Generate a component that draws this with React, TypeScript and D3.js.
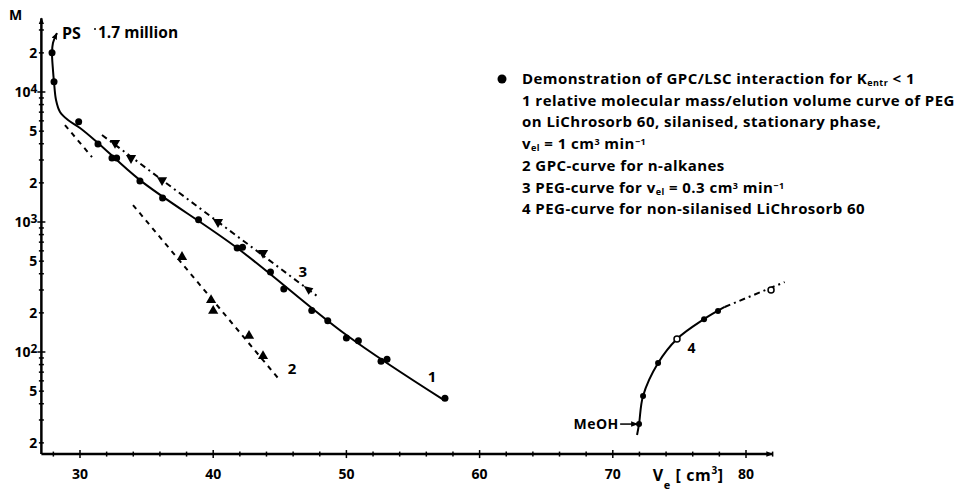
//@ts-nocheck
import { useEffect, useRef } from 'react';
import * as d3 from 'd3';

// curve 1: PEG, silanised LiChrosorb 60, v_el = 1 cm3/min (filled circles)
const curve1V = [27.9, 28.05, 29.9, 31.35, 32.4, 32.75, 34.5, 36.2, 38.9, 41.8, 42.2, 44.3, 45.3, 47.4, 48.6, 50.0, 50.9, 52.6, 53.05, 57.4];
const curve1M = [20000, 12000, 5900, 3980, 3100, 3100, 2070, 1530, 1040, 630, 640, 412, 305, 209, 174, 128, 122, 85, 88, 44];
// drawn curve 1
const line1V = [28.27, 27.97, 27.9, 27.97, 28.05, 28.2, 28.5, 29.1, 30.0, 31.35, 34.5, 41.8, 50.0, 57.33];
const line1M = [28400, 23800, 20000, 14800, 11900, 8680, 7020, 6090, 5290, 4060, 2100, 631, 135, 42.6];

// curve 2: n-alkanes (triangles up)
const curve2V = [37.66, 39.84, 40.0, 42.69, 43.74];
const curve2M = [538, 251, 207, 133, 93];
const line2V = [33.98, 44.87];
const line2M = [1350, 63];
const line2bV = [28.87, 30.9];
const line2bM = [5570, 3160];

// curve 3: PEG, v_el = 0.3 cm3/min (triangles down)
const curve3V = [32.63, 33.83, 36.16, 40.36, 43.74];
const curve3M = [4055, 3105, 2100, 1000, 578];
const line3V = [31.65, 48.0];
const line3M = [4670, 260];

// curve 4: PEG, non-silanised LiChrosorb 60
const curve4V = [71.97, 72.27, 73.4, 76.85, 77.9];
const curve4M = [27.9, 45.9, 82.3, 179, 207];
const open4V = [74.82, 81.88];
const open4M = [126, 300];
const line4V = [71.82, 71.97, 72.27, 73.4, 74.82, 76.85, 78.4];
const line4M = [23, 27.9, 45.9, 82.3, 126, 179, 222];
const ext4V = [78.4, 82.9];
const ext4M = [222, 345];

const xTickValues = [30, 40, 50, 60, 70, 80];
const yLabelValues = [20, 50, 100, 200, 500, 1000, 2000, 5000, 10000, 20000];
const yLabelText = ['2', '5', '10|2', '2', '5', '10|3', '2', '5', '10|4', '2'];

const legendLines = [
    [['Demonstration of GPC/LSC interaction for K', ''], ['entr', 'sub'], [' < 1', '']],
    [['1 relative molecular mass/elution volume curve of PEG', '']],
    [['on LiChrosorb 60, silanised, stationary phase,', '']],
    [['v', ''], ['el', 'sub'], [' = 1 cm', ''], ['3', 'super'], [' min', ''], ['−1', 'super']],
    [['2 GPC-curve for n-alkanes', '']],
    [['3 PEG-curve for v', ''], ['el', 'sub'], [' = 0.3 cm', ''], ['3', 'super'], [' min', ''], ['−1', 'super']],
    [['4 PEG-curve for non-silanised LiChrosorb 60', '']],
];

const App = () => {
    const svgRef = useRef();

    useEffect(() => {
        const svg = d3.select(svgRef.current);
        svg.selectAll('*').remove();
        const font = '"Open Sans", "DejaVu Sans", sans-serif';

        const x = d3.scaleLinear().domain([30, 80]).range([80, 746]);
        const y = d3.scaleLog().domain([100, 10000]).range([352, 92]);
        const xMin = 27.1, xMax = 82.0;
        const yMin = 16.4, yMax = 37000;

        const defs = svg.append('defs');
        defs.append('marker')
            .attr('id', 'arr')
            .attr('viewBox', '0 0 10 10')
            .attr('refX', 9).attr('refY', 5)
            .attr('markerWidth', 7).attr('markerHeight', 7)
            .attr('markerUnits', 'userSpaceOnUse')
            .attr('orient', 'auto-start-reverse')
            .append('path').attr('d', 'M0,1 L10,5 L0,9 Z').attr('fill', '#000');

        // axes
        const ax = svg.append('g').attr('stroke', '#000').attr('fill', 'none');
        ax.append('line')
            .attr('x1', x(xMin)).attr('x2', x(xMax))
            .attr('y1', y(yMin)).attr('y2', y(yMin))
            .attr('stroke-width', 2.5)
            .attr('marker-end', 'url(#arr)');
        ax.append('line')
            .attr('x1', x(xMin)).attr('x2', x(xMin))
            .attr('y1', y(yMin)).attr('y2', y(yMax))
            .attr('stroke-width', 2.5)
            .attr('marker-end', 'url(#arr)');

        // x ticks every 2 units
        const xMinor = d3.range(28, 82.1, 2);
        ax.selectAll('.xt').data(xMinor).enter().append('line')
            .attr('x1', d => x(d)).attr('x2', d => x(d))
            .attr('y1', d => y(yMin) - (d % 10 === 0 ? 4 : 2.5))
            .attr('y2', d => y(yMin) + (d % 10 === 0 ? 4 : 2.5))
            .attr('stroke-width', 1.5);

        // y ticks 1..9 per decade
        const yMinor = [];
        [10, 100, 1000, 10000].forEach(dec => {
            for (let k = 1; k <= 9; k++) {
                const v = dec * k;
                if (v >= yMin && v <= yMax) yMinor.push(v);
            }
        });
        ax.selectAll('.yt').data(yMinor).enter().append('line')
            .attr('x1', d => x(xMin) - ([100, 1000, 10000].includes(d) ? 4 : 2.5))
            .attr('x2', d => x(xMin) + ([100, 1000, 10000].includes(d) ? 4 : 2.5))
            .attr('y1', d => y(d)).attr('y2', d => y(d))
            .attr('stroke-width', 1.5);

        const txt = svg.append('g').attr('font-family', font).attr('font-weight', 700).attr('fill', '#000');

        txt.selectAll('.xl').data(xTickValues).enter().append('text')
            .attr('x', d => x(d)).attr('y', y(yMin) + 25)
            .attr('text-anchor', 'middle')
            .attr('font-size', 14)
            .text(d => d);

        yLabelValues.forEach((v, i) => {
            const parts = yLabelText[i].split('|');
            const t = txt.append('text')
                .attr('x', x(xMin) - 4).attr('y', y(v) + 5)
                .attr('text-anchor', 'end')
                .attr('font-size', 14);
            t.append('tspan').text(parts[0]);
            if (parts[1]) t.append('tspan').attr('baseline-shift', '35%').attr('font-size', 12).text(parts[1]);
        });

        txt.append('text').attr('x', 9).attr('y', 20).attr('font-size', 14).text('M');

        const xl = txt.append('text').attr('x', x(73.0)).attr('y', y(yMin) + 27)
            .attr('font-size', 16).attr('letter-spacing', 0.6);
        xl.append('tspan').text('V');
        xl.append('tspan').attr('baseline-shift', 'sub').attr('font-size', 11).text('e');
        xl.append('tspan').text(' [ cm');
        xl.append('tspan').attr('baseline-shift', 'super').attr('font-size', 10).text('3');
        xl.append('tspan').text(']');

        // lines
        const line = (vs, ms, curve) => d3.line().curve(curve || d3.curveLinear)
            .x((d, i) => x(vs[i])).y((d, i) => y(ms[i]))(vs);

        const plot = svg.append('g').attr('fill', 'none').attr('stroke', '#000');
        plot.append('path')
            .attr('d', line(line1V, line1M, d3.curveCatmullRom.alpha(0.5)))
            .attr('stroke-width', 2)
            .attr('marker-start', 'url(#arr)');
        plot.append('path').attr('d', line(line2V, line2M)).attr('stroke-width', 2).attr('stroke-dasharray', '5,5');
        plot.append('path').attr('d', line(line2bV, line2bM)).attr('stroke-width', 2).attr('stroke-dasharray', '5,5');
        plot.append('path').attr('d', line(line3V, line3M)).attr('stroke-width', 2).attr('stroke-dasharray', '6,4,2,4');
        plot.append('path').attr('d', line(line4V, line4M, d3.curveCatmullRom.alpha(0.5))).attr('stroke-width', 2);
        plot.append('path').attr('d', line(ext4V, ext4M)).attr('stroke-width', 2).attr('stroke-dasharray', '6,4,2,4');

        // markers
        const pts = svg.append('g').attr('fill', '#000');
        pts.selectAll('.c1').data(curve1V).enter().append('circle')
            .attr('cx', d => x(d)).attr('cy', (d, i) => y(curve1M[i])).attr('r', 3.5);
        pts.selectAll('.c4').data(curve4V).enter().append('circle')
            .attr('cx', d => x(d)).attr('cy', (d, i) => y(curve4M[i])).attr('r', 3);
        svg.append('g').selectAll('.o4').data(open4V).enter().append('circle')
            .attr('cx', d => x(d)).attr('cy', (d, i) => y(open4M[i])).attr('r', 3)
            .attr('fill', '#fff').attr('stroke', '#000').attr('stroke-width', 1.5);
        const tri = d3.symbol(d3.symbolTriangle).size(45)();
        pts.selectAll('.c2').data(curve2V).enter().append('path')
            .attr('d', tri)
            .attr('transform', (d, i) => `translate(${x(d)},${y(curve2M[i])})`);
        pts.selectAll('.c3').data(curve3V).enter().append('path')
            .attr('d', tri)
            .attr('transform', (d, i) => `translate(${x(d)},${y(curve3M[i])}) rotate(180)`);
        // arrow on curve 3
        const a0 = [x(line3V[1]), y(line3M[1])], a1 = [x(line3V[0]), y(line3M[0])];
        const ang = Math.atan2(a1[1] - a0[1], a1[0] - a0[0]) * 180 / Math.PI;
        pts.append('path').attr('d', 'M5,0 L-4,-4 L-4,4 Z')
            .attr('transform', `translate(${x(47.1)},${y(305)}) rotate(${ang})`);

        // curve labels
        txt.append('text').attr('x', x(56.1)).attr('y', y(64) + 5).attr('font-size', 15).text('1');
        txt.append('text').attr('x', x(45.6)).attr('y', y(74) + 5).attr('font-size', 15).text('2');
        txt.append('text').attr('x', x(46.4)).attr('y', y(412) + 5).attr('font-size', 15).text('3');
        txt.append('text').attr('x', x(75.6)).attr('y', y(107) + 5).attr('font-size', 14).text('4');

        txt.append('text').attr('x', x(70.45)).attr('y', y(27.9) + 5)
            .attr('text-anchor', 'end').attr('font-size', 14).attr('letter-spacing', 0.5).text('MeOH');
        plot.append('line')
            .attr('x1', x(70.55)).attr('x2', x(71.85))
            .attr('y1', y(27.9)).attr('y2', y(27.9))
            .attr('stroke-width', 1.5).attr('marker-end', 'url(#arr)');

        txt.append('text').attr('x', 62).attr('y', 39).attr('font-size', 16).text('PS');
        txt.append('text').attr('x', 98).attr('y', 38).attr('font-size', 15.5).text('1.7 million');
        txt.append('circle').attr('cx', 95).attr('cy', 29).attr('r', 1);

        // legend
        pts.append('circle').attr('cx', 502).attr('cy', 79).attr('r', 4.5);
        legendLines.forEach((segs, i) => {
            const t = txt.append('text').attr('x', 522).attr('y', 84 + i * 21.7)
                .attr('font-size', 15).attr('letter-spacing', 0.45);
            segs.forEach(([s, kind]) => {
                const ts = t.append('tspan').text(s);
                if (kind === 'sub') ts.attr('baseline-shift', -2).attr('font-size', 9);
                if (kind === 'super') ts.attr('baseline-shift', 4).attr('font-size', 9);
            });
        });
    }, []);

    return (
        <svg ref={svgRef} width={955} height={493} style={{ position: 'absolute', left: 0, top: 0, background: '#fff' }}></svg>
    );
};

export default App;
